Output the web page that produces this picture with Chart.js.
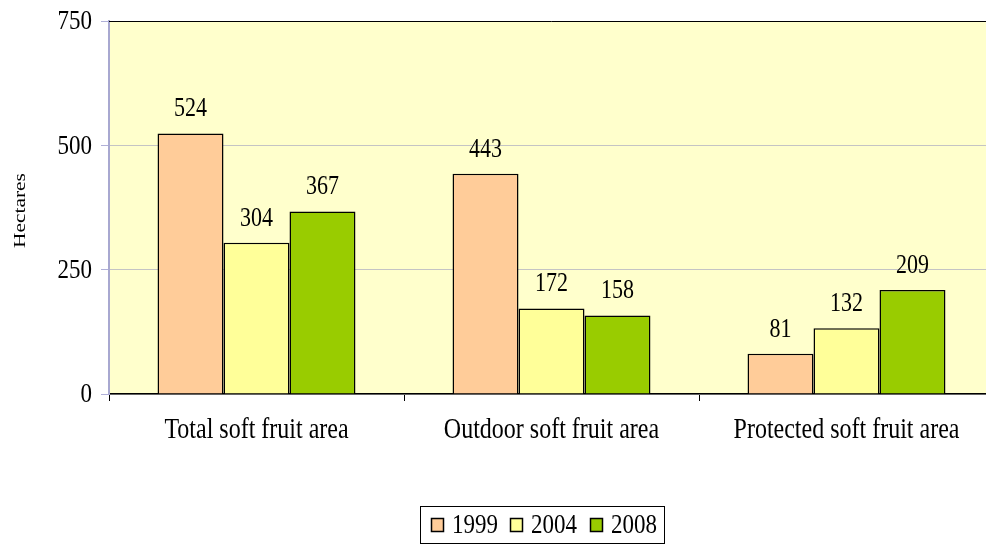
<!DOCTYPE html>
<html>
<head>
<meta charset="utf-8">
<script src="https://cdn.jsdelivr.net/npm/chart.js@4/dist/chart.umd.min.js"></script>
<style>
html,body{margin:0;padding:0;background:#fff;overflow:hidden;}
#wrap{width:1000px;height:545px;position:relative;}
</style>
</head>
<body>
<div id="wrap"><canvas id="c" width="1000" height="545"></canvas></div>
<script>
const categories = ["Total soft fruit area", "Outdoor soft fruit area", "Protected soft fruit area"];
const seriesNames = ["1999", "2004", "2008"];
const values1999 = [524, 443, 81];
const values2004 = [304, 172, 132];
const values2008 = [367, 158, 209];
const yTicks = [0, 250, 500, 750];
const yTitle = "Hectares";
const colors = ["#FFCC99", "#FFFF99", "#99CC00"];

const FONT = "'Liberation Serif', 'Times New Roman', serif";
const STRETCH = 1.2;

function stretchedText(ctx, text, x, y, size, align, baseline) {
  ctx.save();
  ctx.font = size + 'px ' + FONT;
  ctx.textAlign = align;
  ctx.textBaseline = baseline || 'alphabetic';
  ctx.fillStyle = '#000';
  ctx.translate(x, y);
  ctx.scale(1, STRETCH);
  ctx.fillText(text, 0, 0);
  ctx.restore();
}

const textPlugin = {
  id: 'textPlugin',
  beforeDraw(chart) {
    const {ctx, chartArea: a} = chart;
    ctx.save();
    ctx.fillStyle = '#FFFFCC';
    ctx.fillRect(a.left, a.top, a.right - a.left, a.bottom - a.top);
    ctx.restore();
  },
  afterDraw(chart) {
    const {ctx, chartArea: a} = chart;
    const xs = chart.scales.x, ys = chart.scales.y;
    ctx.save();
    ctx.strokeStyle = '#000';
    ctx.lineWidth = 1;
    ctx.beginPath();
    ctx.moveTo(a.left, a.top + 0.5);
    ctx.lineTo(a.right, a.top + 0.5);
    ctx.lineTo(a.right, a.bottom);
    ctx.stroke();
    ctx.restore();

    ys.ticks.forEach(t => {
      const y = ys.getPixelForValue(t.value);
      stretchedText(ctx, String(t.value), a.left - 17, y + 1, 23, 'right', 'middle');
    });
    chart.data.labels.forEach((lab, i) => {
      const x = xs.getPixelForValue(i);
      stretchedText(ctx, lab, x, a.bottom + 44, 24, 'center', 'alphabetic');
    });
    ctx.save();
    ctx.font = '17px ' + FONT;
    ctx.fillStyle = '#000';
    ctx.textAlign = 'center';
    ctx.textBaseline = 'middle';
    ctx.translate(21, (a.top + a.bottom) / 2 + 3);
    ctx.rotate(-Math.PI / 2);
    ctx.scale(1.26, 1);
    ctx.fillText(yTitle, 0, 0);
    ctx.restore();

    chart.data.datasets.forEach((ds, i) => {
      const meta = chart.getDatasetMeta(i);
      meta.data.forEach((bar, j) => {
        stretchedText(ctx, String(ds.data[j]), bar.x, bar.y - 17, 22, 'center', 'alphabetic');
      });
    });

    const lx = 420, ly = 506, lw = 244, lh = 37;
    ctx.save();
    ctx.fillStyle = '#fff';
    ctx.fillRect(lx, ly, lw, lh);
    ctx.strokeStyle = '#000';
    ctx.lineWidth = 1;
    ctx.strokeRect(lx + 0.5, ly + 0.5, lw, lh);
    ctx.restore();
    const itemX = [431, 510, 590];
    chart.data.datasets.forEach((ds, i) => {
      const x = itemX[i];
      ctx.save();
      ctx.fillStyle = ds.backgroundColor;
      ctx.fillRect(x, 518, 12, 13);
      ctx.strokeStyle = '#000';
      ctx.lineWidth = 1.5;
      ctx.strokeRect(x + 0.5, 518.5, 12, 13);
      ctx.restore();
      stretchedText(ctx, ds.label, x + 21, 533, 23, 'left', 'alphabetic');
    });
  }
};

const datasets = [values1999, values2004, values2008].map((vals, i) => ({
  label: seriesNames[i],
  data: vals,
  backgroundColor: colors[i],
  borderColor: '#000',
  borderWidth: 1.5,
  borderSkipped: 'bottom',
  barPercentage: 1.0,
  categoryPercentage: 0.671
}));

new Chart(document.getElementById('c'), {
  type: 'bar',
  data: { labels: categories, datasets },
  options: {
    responsive: false,
    animation: false,
    layout: { padding: { top: 21, right: 6, bottom: 0, left: 0 } },
    plugins: {
      legend: { display: false },
      tooltip: { enabled: false }
    },
    scales: {
      x: {
        offset: true,
        grid: { drawOnChartArea: false, drawTicks: true, tickLength: 7, color: '#000', offset: true },
        border: { color: '#000', width: 1.5 },
        ticks: { display: false },
        afterFit(scale) { scale.height = 151; }
      },
      y: {
        min: 0, max: 750,
        afterBuildTicks(scale) { scale.ticks = yTicks.map(v => ({ value: v })); },
        grid: { color: '#C4C4C4', tickColor: '#B0B0D8', lineWidth: 1, tickLength: 8, drawTicks: true },
        border: { color: '#A8A8D0', width: 2 },
        ticks: { display: false },
        afterFit(scale) { scale.width = 109; }
      }
    }
  },
  plugins: [textPlugin]
});
</script>
</body>
</html>
